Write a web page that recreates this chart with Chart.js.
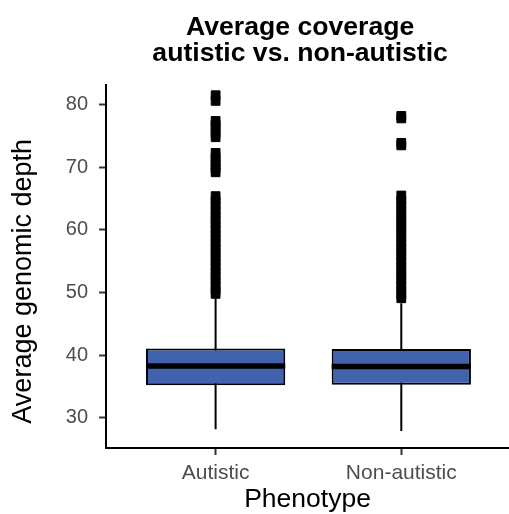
<!DOCTYPE html>
<html>
<head>
<meta charset="utf-8">
<script src="https://cdn.jsdelivr.net/npm/chart.js@4/dist/chart.umd.min.js"></script>
<style>
  html, body { margin: 0; padding: 0; background: #fff; }
  #wrap { width: 509px; height: 514px; }
</style>
</head>
<body>
<div id="wrap"><canvas id="coverageChart" width="509" height="514"></canvas></div>
<script>
// box plot summary per phenotype
var phenotypes = ['Autistic', 'Non-autistic'];
var q1 = [35.2, 35.3];
var median = [38.3, 38.2];
var q3 = [41.1, 41.0];
var whiskerLow = [28.2, 27.9];
var whiskerHigh = [49.1, 48.3];

// points beyond the whiskers
var outliersAutistic = [81.5, 80.6, 77.4, 76.8, 76.2, 75.5, 74.8, 72.3, 71.6, 71.0, 70.4, 69.8, 69.2,
    65.4, 64.6, 63.9, 63.1, 62.4, 61.6, 60.9, 60.1, 59.4, 58.6, 57.9, 57.1, 56.4, 55.6, 54.9,
    54.1, 53.4, 52.6, 51.9, 51.1, 50.4, 49.8];
var outliersNonAutistic = [78.2, 77.8, 73.9, 73.5, 65.5, 64.7, 64.0, 63.2, 62.5, 61.7, 61.0, 60.2,
    59.5, 58.7, 58.0, 57.2, 56.5, 55.7, 55.0, 54.2, 53.5, 52.7, 52.0, 51.2, 50.5, 49.7, 49.1];

var yTicks = [30, 40, 50, 60, 70, 80];

var boxFill = '#4262ad';
var boxHalf = 0.375;
var fontFamily = '"Liberation Sans", Arial, Helvetica, sans-serif';

// build line segments; null y breaks the line between categories
var whiskerData = [];
var medianData = [];
phenotypes.forEach(function (name, i) {
    var x = i + 1;
    whiskerData.push({ x: x, y: whiskerLow[i] }, { x: x, y: whiskerHigh[i] }, { x: x + 0.5, y: null });
    medianData.push({ x: x - boxHalf, y: median[i] }, { x: x + boxHalf, y: median[i] }, { x: x + 0.5, y: null });
});

var outlierData = [];
outliersAutistic.forEach(function (v) { outlierData.push({ x: 1, y: v }); });
outliersNonAutistic.forEach(function (v) { outlierData.push({ x: 2, y: v }); });

var ctx = document.getElementById('coverageChart').getContext('2d');

var chart = new Chart(ctx, {
    type: 'bar',
    data: {
        datasets: [
            {
                type: 'line',
                label: 'median',
                data: medianData,
                borderColor: '#000',
                borderWidth: 5.5,
                borderCapStyle: 'butt',
                pointRadius: 0,
                spanGaps: false,
                order: 0
            },
            {
                type: 'scatter',
                label: 'outliers',
                data: outlierData,
                pointStyle: 'rect',
                pointRadius: 6.2,
                backgroundColor: '#000',
                borderColor: '#000',
                borderWidth: 1,
                order: 0
            },
            {
                type: 'bar',
                label: 'box',
                data: phenotypes.map(function (name, i) { return { x: i + 1, y: [q1[i], q3[i]] }; }),
                backgroundColor: boxFill,
                borderColor: '#000',
                borderWidth: 2,
                borderSkipped: false,
                categoryPercentage: 1,
                barPercentage: boxHalf * 2,
                order: 1
            },
            {
                type: 'line',
                label: 'whisker',
                data: whiskerData,
                borderColor: '#000',
                borderWidth: 2,
                pointRadius: 0,
                spanGaps: false,
                order: 2
            }
        ]
    },
    options: {
        responsive: false,
        animation: false,
        layout: { autoPadding: false, padding: 0 },
        plugins: {
            legend: { display: false },
            tooltip: { enabled: false },
            title: {
                display: true,
                fullSize: false,
                text: ['Average coverage  ', 'autistic vs. non-autistic  '],
                color: '#000',
                font: { family: fontFamily, size: 26.6, weight: 'bold', lineHeight: 1.0 },
                padding: { top: 14, bottom: 17.4 }
            }
        },
        scales: {
            x: {
                type: 'linear',
                min: 0.41,
                max: 2.58,
                offset: false,
                afterBuildTicks: function (scale) {
                    scale.ticks = phenotypes.map(function (name, i) { return { value: i + 1 }; });
                },
                ticks: {
                    color: '#4d4d4d',
                    padding: 7.5,
                    font: { family: fontFamily, size: 21, lineHeight: 1.0 },
                    callback: function (value) { return phenotypes[value - 1]; }
                },
                grid: { display: true, drawOnChartArea: false, offset: false, tickLength: 7, tickColor: '#333', tickWidth: 2 },
                border: { display: true, color: '#000', width: 2 },
                title: {
                    display: true,
                    text: 'Phenotype',
                    color: '#000',
                    font: { family: fontFamily, size: 26.5, lineHeight: 1.0 },
                    padding: { top: -4.5, bottom: 1 }
                }
            },
            y: {
                type: 'linear',
                min: 25.2,
                max: 83.2,
                afterBuildTicks: function (scale) {
                    scale.ticks = yTicks.map(function (v) { return { value: v }; });
                },
                ticks: {
                    color: '#4d4d4d',
                    padding: 11,
                    font: { family: fontFamily, size: 20 }
                },
                grid: { display: true, drawOnChartArea: false, tickLength: 7, tickColor: '#333', tickWidth: 2 },
                border: { display: true, color: '#000', width: 2 },
                title: {
                    display: true,
                    text: 'Average genomic depth    ',
                    color: '#000',
                    font: { family: fontFamily, size: 27, lineHeight: 1.2 },
                    padding: { top: 7, bottom: 15.4 }
                }
            }
        }
    }
});
</script>
</body>
</html>
